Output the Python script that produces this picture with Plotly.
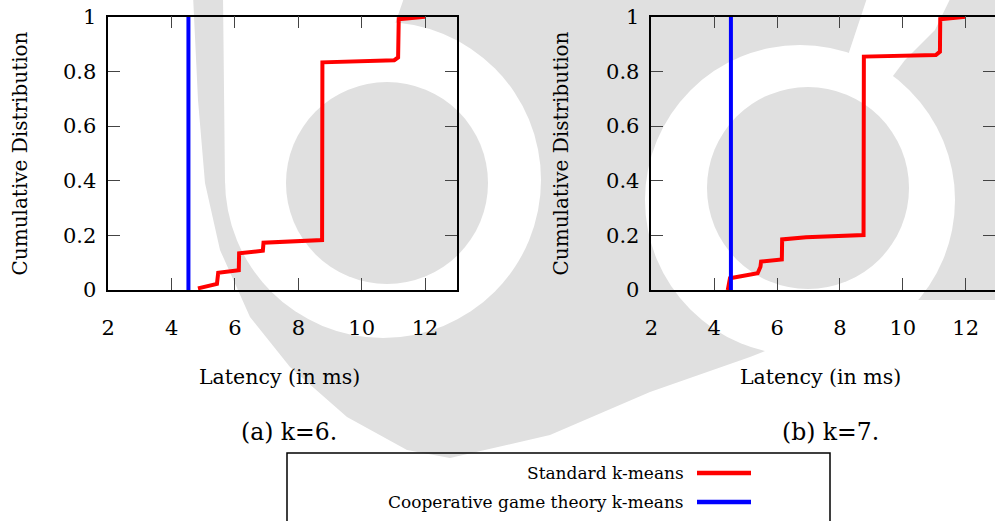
import plotly.graph_objects as go

W, H = 995, 521

# ---------------- data ----------------
k6_latency = [4.83, 5.43, 5.47, 6.12, 6.13, 6.88, 6.90, 8.75, 8.76, 11.03, 11.15, 11.17, 12.0]
k6_cdf = [0.006, 0.022, 0.063, 0.072, 0.134, 0.144, 0.173, 0.183, 0.833, 0.841, 0.851, 0.991, 1.0]

k7_latency = [4.43, 4.50, 5.38, 5.47, 5.49, 6.15, 6.16, 6.92, 8.75, 8.76, 11.05, 11.18, 11.19, 12.0]
k7_cdf = [0.0, 0.043, 0.061, 0.085, 0.104, 0.112, 0.185, 0.193, 0.201, 0.854, 0.860, 0.872, 0.991, 1.0]

coop_k6_latency = [4.53, 4.53]
coop_k6_cdf = [0.0, 1.0]
coop_k7_latency = [4.53, 4.53]
coop_k7_cdf = [0.0, 1.0]

x_ticks = [2, 4, 6, 8, 10, 12]
x_tick_labels = ["2", "4", "6", "8", "10", "12"]
y_ticks = [0, 0.2, 0.4, 0.6, 0.8, 1.0]
y_tick_labels = ["0", "0.2", "0.4", "0.6", "0.8", "1"]

series_names = ["Standard k-means", "Cooperative game theory k-means"]
series_colors = ["#ff0000", "#0000ff"]
captions = ["(a) k=6.", "(b) k=7."]
x_title = "Latency (in ms)"
y_title = "Cumulative Distribution"

FONT = "DejaVu Serif, serif"


def px(x):
    return x / W


def py(y):
    return 1 - y / H


fig = go.Figure()

fig.add_trace(go.Scatter(x=k6_latency, y=k6_cdf, mode="lines", xaxis="x", yaxis="y",
                         line=dict(color=series_colors[0], width=4), showlegend=False))
fig.add_trace(go.Scatter(x=coop_k6_latency, y=coop_k6_cdf, mode="lines", xaxis="x", yaxis="y",
                         line=dict(color=series_colors[1], width=4), showlegend=False))
fig.add_trace(go.Scatter(x=k7_latency, y=k7_cdf, mode="lines", xaxis="x2", yaxis="y2",
                         line=dict(color=series_colors[0], width=4), showlegend=False))
fig.add_trace(go.Scatter(x=coop_k7_latency, y=coop_k7_cdf, mode="lines", xaxis="x2", yaxis="y2",
                         line=dict(color=series_colors[1], width=4), showlegend=False))

ydom = [py(290), py(16.7)]
common_axis = dict(showline=True, mirror="ticks", linecolor="black", linewidth=1.5,
                   ticks="inside", ticklen=12, tickwidth=1.2, tickcolor="#444",
                   showgrid=False, zeroline=False, automargin=False,
                   tickfont=dict(family=FONT, size=21, color="black"))

fig.update_layout(
    width=W, height=H,
    margin=dict(l=0, r=0, t=0, b=0, pad=0, autoexpand=False),
    paper_bgcolor="white", plot_bgcolor="rgba(0,0,0,0)",
    font=dict(family=FONT, color="black"),
    showlegend=False,
    xaxis=dict(domain=[px(108.3), px(456.7)], range=[2, 13], anchor="y",
               tickvals=x_ticks, ticktext=x_tick_labels, ticklabelstandoff=18, **common_axis),
    yaxis=dict(domain=ydom, range=[0, 1], anchor="x",
               tickvals=y_ticks, ticktext=y_tick_labels, ticklabelstandoff=6, **common_axis),
    xaxis2=dict(domain=[px(651.4), 1.0], range=[2, 2 + (995 - 651.4) / 31.43], anchor="y2",
                tickvals=x_ticks, ticktext=x_tick_labels, ticklabelstandoff=18, **common_axis),
    yaxis2=dict(domain=ydom, range=[0, 1], anchor="x2",
                tickvals=y_ticks, ticktext=y_tick_labels, ticklabelstandoff=6, **common_axis),
)

# ---------------- watermark (background decoration) ----------------
GRAY = "#e0e0e0"


def poly(pts):
    return "M " + " L ".join(f"{px(x):.5f},{py(y):.5f}" for x, y in pts) + " Z"


def circle(cx, cy, r, color):
    return dict(type="circle", xref="paper", yref="paper", layer="below",
                x0=px(cx - r), x1=px(cx + r), y0=py(cy + r), y1=py(cy - r),
                fillcolor=color, line=dict(width=0))


outer = [(193, -5), (198, 100), (205, 183), (220, 250), (250, 317), (290, 367), (347, 417),
         (407, 450), (450, 458), (550, 435), (650, 392), (750, 357), (850, 317), (917, 300),
         (960, 300), (1000, 300), (1000, -5)]
shapes = [dict(type="path", xref="paper", yref="paper", layer="below", path=poly(outer),
               fillcolor=GRAY, line=dict(width=0))]
shapes.append(circle(383, 180, 158, "white"))
shapes.append(dict(type="path", xref="paper", yref="paper", layer="below",
                   path=poly([(223, -5), (405, -5), (395, 24), (383, 180), (225, 183)]),
                   fillcolor="white", line=dict(width=0)))
shapes.append(circle(800, 200, 155, "white"))
shapes.append(dict(type="path", xref="paper", yref="paper", layer="below",
                   path=poly([(868, -5), (952, -5), (935, 30), (905, 60), (800, 200)]),
                   fillcolor="white", line=dict(width=0)))
shapes.append(circle(387, 183, 101, GRAY))
shapes.append(circle(808, 188, 101, GRAY))

# ---------------- legend box (gnuplot style: text then sample) ----------------
shapes.append(dict(type="rect", xref="paper", yref="paper", layer="above",
                   x0=px(287), x1=px(830), y0=py(540), y1=py(453),
                   line=dict(color="black", width=1.5), fillcolor="rgba(0,0,0,0)"))
legend_y = [473, 502]
annotations = []
for name, color, ly in zip(series_names, series_colors, legend_y):
    shapes.append(dict(type="line", xref="paper", yref="paper", layer="above",
                       x0=px(697), x1=px(751), y0=py(ly), y1=py(ly),
                       line=dict(color=color, width=4.5)))
    annotations.append(dict(x=px(686), y=py(ly), xref="paper", yref="paper", text=name,
                            showarrow=False, xanchor="right", yanchor="middle",
                            font=dict(family=FONT, size=17, color="black")))

# axis titles and captions
for cx in [279, 820]:
    annotations.append(dict(x=px(cx), y=py(377), xref="paper", yref="paper", text=x_title,
                            showarrow=False, xanchor="center", yanchor="middle",
                            font=dict(family=FONT, size=20.5, color="black")))
for cx in [19, 560]:
    annotations.append(dict(x=px(cx), y=py(153.5), xref="paper", yref="paper", text=y_title,
                            showarrow=False, xanchor="center", yanchor="middle", textangle=-90,
                            font=dict(family=FONT, size=20, color="black")))
for cx, cap in zip([289, 830], captions):
    annotations.append(dict(x=px(cx), y=py(432), xref="paper", yref="paper", text=cap,
                            showarrow=False, xanchor="center", yanchor="middle",
                            font=dict(family=FONT, size=23.5, color="black")))

fig.update_layout(shapes=shapes, annotations=annotations)

fig.write_html("out.html", config={"displayModeBar": False},
               post_script="document.body.style.margin='0';")
